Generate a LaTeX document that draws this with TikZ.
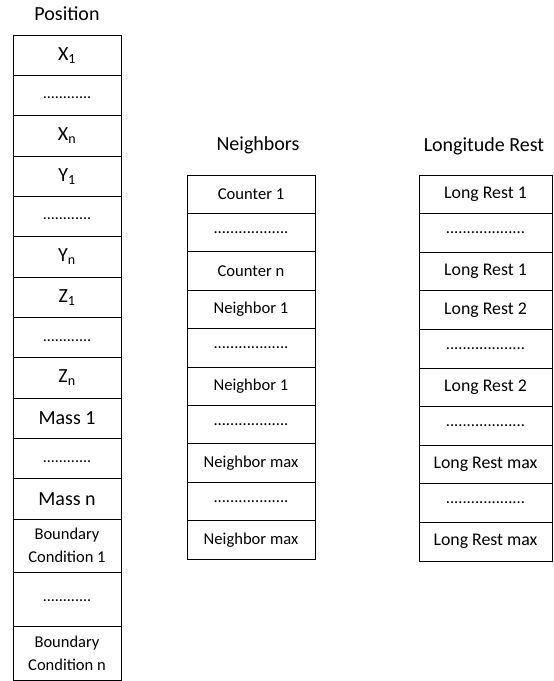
\documentclass[tikz,border=0pt]{standalone}
\usepackage{fontspec}
\setmainfont{Carlito}
\usetikzlibrary{positioning}

% rows of dots for the skipped entries
\newcommand{\lowdots}[1]{\raisebox{#1}{\fontsize{16}{16}\selectfont ............}}
\newcommand{\middots}{{\fontsize{16.5}{16}\selectfont ..................}}
\newcommand{\rightdots}{{\fontsize{16.5}{16}\selectfont ...................}}

\begin{document}
\begin{tikzpicture}
   [
      x=1pt, y=-1pt,
      cell/.style={draw, line width=0.9pt, outer sep=0pt, inner sep=0pt, align=center},
      pos cell/.style={cell, minimum width=108pt, minimum height=40.33pt, font=\fontsize{20}{24}\selectfont},
      bc cell/.style={cell, minimum width=108pt, minimum height=53.7pt, font=\fontsize{16.5}{23}\selectfont},
      nb cell/.style={cell, minimum width=128pt, minimum height=38.4pt, font=\fontsize{16.6}{20}\selectfont},
      lr cell/.style={cell, minimum width=133pt, minimum height=38.6pt, font=\fontsize{17.8}{21}\selectfont},
      title/.style={font=\fontsize{20}{24}\selectfont},
   ]

   \useasboundingbox (0,0) rectangle (554,681);

   % =======================================================
   % Left array: Position
   % =======================================================

   \node[title] (pos_title) at (67,14) {Position};

   \node[pos cell, anchor=north west] (X1) at (13,35) {X\textsubscript{1}};
   \node[pos cell, below=0pt of X1] (Xd) {\lowdots{-7pt}};
   \node[pos cell, below=0pt of Xd] (Xn) {X\textsubscript{n}};
   \node[pos cell, below=0pt of Xn] (Y1) {Y\textsubscript{1}};
   \node[pos cell, below=0pt of Y1] (Yd) {\lowdots{-7pt}};
   \node[pos cell, below=0pt of Yd] (Yn) {Y\textsubscript{n}};
   \node[pos cell, below=0pt of Yn] (Z1) {Z\textsubscript{1}};
   \node[pos cell, below=0pt of Z1] (Zd) {\lowdots{-9pt}};
   \node[pos cell, below=0pt of Zd] (Zn) {Z\textsubscript{n}};
   \node[pos cell, below=0pt of Zn] (M1) {Mass 1};
   \node[pos cell, below=0pt of M1] (Md) {\lowdots{-8pt}};
   \node[pos cell, below=0pt of Md] (Mn) {Mass n};

   \node[bc cell, below=0pt of Mn] (BC1) {Boundary\\Condition 1};
   \node[bc cell, below=0pt of BC1] (BCd) {\lowdots{-4pt}};
   \node[bc cell, below=0pt of BCd] (BCn) {Boundary\\Condition n};

   % =======================================================
   % Middle array: Neighbors
   % =======================================================

   \node[title] (nb_title) at (258,145) {Neighbors};

   \node[nb cell, anchor=north west] (C1) at (187,175) {Counter 1};
   \node[nb cell, below=0pt of C1] (Cd) {\middots};
   \node[nb cell, below=0pt of Cd] (Cn) {Counter n};
   \node[nb cell, below=0pt of Cn] (N1) {Neighbor 1};
   \node[nb cell, below=0pt of N1] (Nd1) {\middots};
   \node[nb cell, below=0pt of Nd1] (N1b) {Neighbor 1};
   \node[nb cell, below=0pt of N1b] (Nd2) {\middots};
   \node[nb cell, below=0pt of Nd2] (Nmax) {Neighbor max};
   \node[nb cell, below=0pt of Nmax] (Nd3) {\middots};
   \node[nb cell, below=0pt of Nd3] (Nmaxb) {Neighbor max};

   % =======================================================
   % Right array: Longitude Rest
   % =======================================================

   \node[title] (lr_title) at (484,146) {Longitude Rest};

   \node[lr cell, anchor=north west] (L1) at (419,175) {Long Rest 1};
   \node[lr cell, below=0pt of L1] (Ld1) {\rightdots};
   \node[lr cell, below=0pt of Ld1] (L1b) {Long Rest 1};
   \node[lr cell, below=0pt of L1b] (L2) {Long Rest 2};
   \node[lr cell, below=0pt of L2] (Ld2) {\rightdots};
   \node[lr cell, below=0pt of Ld2] (L2b) {Long Rest 2};
   \node[lr cell, below=0pt of L2b] (Ld3) {\rightdots};
   \node[lr cell, below=0pt of Ld3] (Lmax) {Long Rest max};
   \node[lr cell, below=0pt of Lmax] (Ld4) {\rightdots};
   \node[lr cell, below=0pt of Ld4] (Lmaxb) {Long Rest max};

\end{tikzpicture}
\end{document}
